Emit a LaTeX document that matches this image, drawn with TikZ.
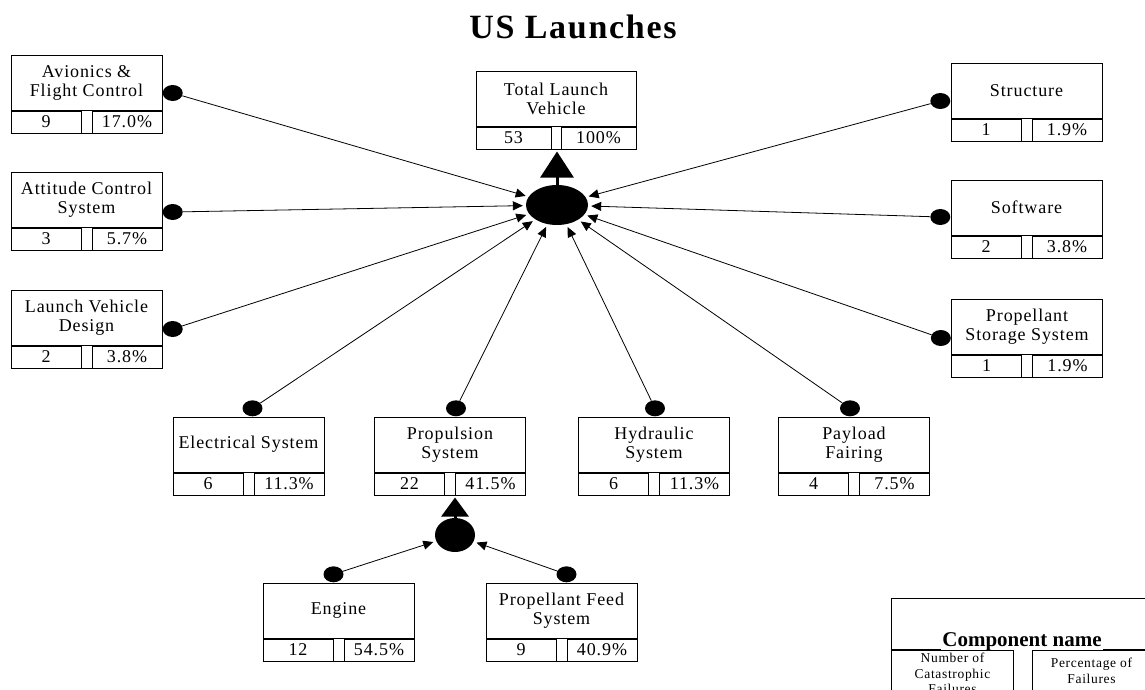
\documentclass[tikz,border=0pt]{standalone}
\usepackage{fontspec}
\setmainfont{Liberation Serif}
\newfontfamily\boxfont{Liberation Serif}[LetterSpace=5]
\newfontfamily\headfont{Liberation Serif}[LetterSpace=5]
\usetikzlibrary{shapes.geometric,arrows.meta}
\tikzset{
  namebox/.style={draw, line width=1pt, minimum width=151pt, minimum height=55pt,
    inner sep=0pt, align=center, font=\boxfont\fontsize{18}{19}\selectfont},
  cellbox/.style={draw, line width=1pt, minimum width=70pt, minimum height=22pt,
    inner sep=0pt, font=\boxfont\fontsize{18}{19}\selectfont},
  legendtext/.style={inner sep=1pt, align=center, font=\boxfont\fontsize{13.5}{15.5}\selectfont},
  pindot/.style={ellipse, fill, inner sep=0pt, minimum width=20pt, minimum height=16pt},
  gate/.style={ellipse, fill, inner sep=0pt},
  feed/.style={line width=0.8pt, -{Triangle[length=10pt,width=9pt]}, shorten >=3pt},
  uparrow/.style={line width=3pt, -{Triangle[length=26pt,width=33pt]}, shorten >=2pt},
  subarrow/.style={line width=3pt, -{Triangle[length=19pt,width=27pt]}, shorten >=2pt}
}
\begin{document}
\begin{tikzpicture}[x=1pt,y=-1pt]
\useasboundingbox (0,0) rectangle (1145,689);
\clip (0,0) rectangle (1145,689);
\node[font=\headfont\bfseries\fontsize{34}{38}\selectfont] (title) at (573,27) {US Launches};

\node[namebox, minimum width=160pt] (tlv) at (556,98.5) {Total Launch\\Vehicle};
\node[cellbox, minimum width=75pt, anchor=north west] (tlv-n) at (tlv.south west) {53};
\node[cellbox, minimum width=75pt, anchor=north east] (tlv-p) at (tlv.south east) {100\%};
\draw[line width=1pt] (tlv-n.south west) -- (tlv-p.south east);

\node[namebox] (avi) at (86.5,82.5) {Avionics \&\\Flight Control};
\node[cellbox, anchor=north west] (avi-n) at (avi.south west) {9};
\node[cellbox, anchor=north east] (avi-p) at (avi.south east) {17.0\%};
\draw[line width=1pt] (avi-n.south west) -- (avi-p.south east);

\node[namebox] (att) at (86.5,199.5) {Attitude Control\\System};
\node[cellbox, anchor=north west] (att-n) at (att.south west) {3};
\node[cellbox, anchor=north east] (att-p) at (att.south east) {5.7\%};
\draw[line width=1pt] (att-n.south west) -- (att-p.south east);

\node[namebox] (lvd) at (86.5,317.5) {Launch Vehicle\\Design};
\node[cellbox, anchor=north west] (lvd-n) at (lvd.south west) {2};
\node[cellbox, anchor=north east] (lvd-p) at (lvd.south east) {3.8\%};
\draw[line width=1pt] (lvd-n.south west) -- (lvd-p.south east);

\node[namebox] (str) at (1026.5,90.5) {Structure};
\node[cellbox, anchor=north west] (str-n) at (str.south west) {1};
\node[cellbox, anchor=north east] (str-p) at (str.south east) {1.9\%};
\draw[line width=1pt] (str-n.south west) -- (str-p.south east);

\node[namebox] (sw) at (1026.5,207.5) {Software};
\node[cellbox, anchor=north west] (sw-n) at (sw.south west) {2};
\node[cellbox, anchor=north east] (sw-p) at (sw.south east) {3.8\%};
\draw[line width=1pt] (sw-n.south west) -- (sw-p.south east);

\node[namebox] (pss) at (1027,326.5) {Propellant\\Storage System};
\node[cellbox, anchor=north west] (pss-n) at (pss.south west) {1};
\node[cellbox, anchor=north east] (pss-p) at (pss.south east) {1.9\%};
\draw[line width=1pt] (pss-n.south west) -- (pss-p.south east);

\node[namebox] (ele) at (248.5,444.5) {Electrical System};
\node[cellbox, anchor=north west] (ele-n) at (ele.south west) {6};
\node[cellbox, anchor=north east] (ele-p) at (ele.south east) {11.3\%};
\draw[line width=1pt] (ele-n.south west) -- (ele-p.south east);

\node[namebox] (pro) at (450,444.5) {Propulsion\\System};
\node[cellbox, anchor=north west] (pro-n) at (pro.south west) {22};
\node[cellbox, anchor=north east] (pro-p) at (pro.south east) {41.5\%};
\draw[line width=1pt] (pro-n.south west) -- (pro-p.south east);

\node[namebox] (hyd) at (654,444.5) {Hydraulic\\System};
\node[cellbox, anchor=north west] (hyd-n) at (hyd.south west) {6};
\node[cellbox, anchor=north east] (hyd-p) at (hyd.south east) {11.3\%};
\draw[line width=1pt] (hyd-n.south west) -- (hyd-p.south east);

\node[namebox] (pay) at (854,444.5) {Payload\\Fairing};
\node[cellbox, anchor=north west] (pay-n) at (pay.south west) {4};
\node[cellbox, anchor=north east] (pay-p) at (pay.south east) {7.5\%};
\draw[line width=1pt] (pay-n.south west) -- (pay-p.south east);

\node[namebox] (eng) at (338.5,610.5) {Engine};
\node[cellbox, anchor=north west] (eng-n) at (eng.south west) {12};
\node[cellbox, anchor=north east] (eng-p) at (eng.south east) {54.5\%};
\draw[line width=1pt] (eng-n.south west) -- (eng-p.south east);

\node[namebox] (pfs) at (561.5,610.5) {Propellant Feed\\System};
\node[cellbox, anchor=north west] (pfs-n) at (pfs.south west) {9};
\node[cellbox, anchor=north east] (pfs-p) at (pfs.south east) {40.9\%};
\draw[line width=1pt] (pfs-n.south west) -- (pfs-p.south east);

\node[pindot, anchor=west] (avi-d) at ([yshift=-10.5pt]avi.east) {};
\node[pindot, anchor=west] (att-d) at ([yshift=-12.5pt]att.east) {};
\node[pindot, anchor=west] (lvd-d) at ([yshift=-11.5pt]lvd.east) {};
\node[pindot, anchor=east] (str-d) at ([yshift=-10.5pt]str.west) {};
\node[pindot, anchor=east] (sw-d) at ([yshift=-9.5pt]sw.west) {};
\node[pindot, anchor=east] (pss-d) at ([yshift=-11.5pt]pss.west) {};
\node[pindot, anchor=south] (ele-d) at ([xshift=4pt]ele.north) {};
\node[pindot, anchor=south] (pro-d) at ([xshift=6pt]pro.north) {};
\node[pindot, anchor=south] (hyd-d) at ([xshift=1pt]hyd.north) {};
\node[pindot, anchor=south] (pay-d) at ([xshift=-4pt]pay.north) {};
\node[pindot, anchor=south] (eng-d) at ([xshift=-5pt]eng.north) {};
\node[pindot, anchor=south] (pfs-d) at ([xshift=5pt]pfs.north) {};

\node[gate, minimum width=62pt, minimum height=40pt] (topgate) at (557,205) {};
\node[gate, minimum width=40pt, minimum height=34pt] (subgate) at (455,535) {};

\draw[uparrow] (topgate.north) -- (topgate.north |- tlv-n.south);
\draw[subarrow] (subgate.north) -- (subgate.north |- pro-n.south);
\foreach \c in {avi,att,lvd,str,sw,pss,ele,pro,hyd,pay}
  \draw[feed] (\c-d) -- (topgate);
\draw[feed] (eng-d) -- (subgate);
\draw[feed] (pfs-d) -- (subgate);

\node[draw, line width=1pt, anchor=north west, minimum width=262pt, minimum height=51pt] (leg) at (891,598) {};
\node[cellbox, anchor=north west, minimum width=122pt, minimum height=48pt] (leg-n) at (leg.south west) {};
\node[cellbox, anchor=north west, minimum width=118pt, minimum height=48pt] (leg-p) at ([xshift=18pt]leg-n.north east) {};
\node[fill=white, inner xsep=1pt, inner ysep=0pt, text depth=4pt, anchor=base,
  font=\bfseries\fontsize{21}{24}\selectfont] (leg-t) at (1022,646) {Component name};
\node[legendtext, anchor=north] (leg-nt) at ([yshift=-2pt]leg-n.north) {Number of\\Catastrophic\\Failures};
\node[legendtext, anchor=north] (leg-pt) at ([yshift=-7pt]leg-p.north) {Percentage of\\Failures};
\end{tikzpicture}
\end{document}
